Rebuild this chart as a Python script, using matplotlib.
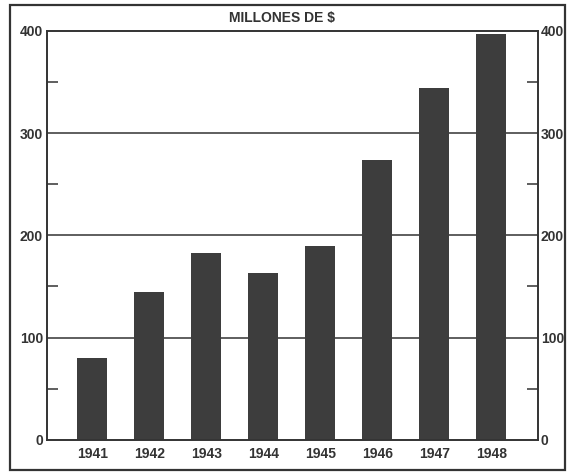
import matplotlib.pyplot as plt
from matplotlib.patches import Rectangle

years = ['1941', '1942', '1943', '1944', '1945', '1946', '1947', '1948']
values = [80, 145, 183, 163, 190, 274, 344, 397]
major_ticks = [0, 100, 200, 300, 400]
minor_ticks = [50, 150, 250, 350]

ink = '#333333'
plt.rcParams['font.family'] = ['Liberation Sans Narrow', 'Liberation Sans', 'DejaVu Sans']

fig = plt.figure(figsize=(5.68, 4.75), dpi=100)
ax = fig.add_axes([0.083, 0.074, 0.864, 0.861])

x = range(len(years))
ax.bar(x, values, width=0.53, color='#3d3d3d', zorder=3)

ax.set_xlim(-0.79, 7.82)
ax.set_ylim(0, 400)

for v in major_ticks[1:-1]:
    ax.axhline(v, color=ink, lw=1.1, zorder=1)

ax.set_xticks(list(x))
ax.set_xticklabels(years, fontsize=10, color=ink, fontweight='bold')
ax.tick_params(axis='x', length=0, pad=5)

ax.set_yticks(major_ticks)
ax.set_yticks(minor_ticks, minor=True)
ax.tick_params(axis='y', which='major', length=0, pad=3, labelsize=10, labelcolor=ink)
ax.tick_params(axis='y', which='minor', direction='in', length=8, width=1.1, color=ink)

ax2 = ax.twinx()
ax2.set_ylim(0, 400)
ax2.set_yticks(major_ticks)
ax2.set_yticks(minor_ticks, minor=True)
ax2.tick_params(axis='y', which='major', length=0, pad=2, labelsize=10, labelcolor=ink)
ax2.tick_params(axis='y', which='minor', direction='in', length=8, width=1.1, color=ink)

for lbl in ax.get_yticklabels() + ax2.get_yticklabels():
    lbl.set_fontweight('bold')

for a in (ax, ax2):
    for s in a.spines.values():
        s.set_color(ink)
        s.set_linewidth(1.2)

fig.text(0.497, 0.962, 'MILLONES DE $', ha='center', va='center',
         fontsize=10, color=ink, fontweight='bold',
         family=['Liberation Sans', 'DejaVu Sans'])

# outer frame of the page
fig.patches.append(Rectangle((10 / 568, 5 / 475), 555 / 568, 465 / 475,
                             transform=fig.transFigure, fill=False,
                             edgecolor=ink, lw=1.6))

fig.savefig('out.png', dpi=100, facecolor='white')
